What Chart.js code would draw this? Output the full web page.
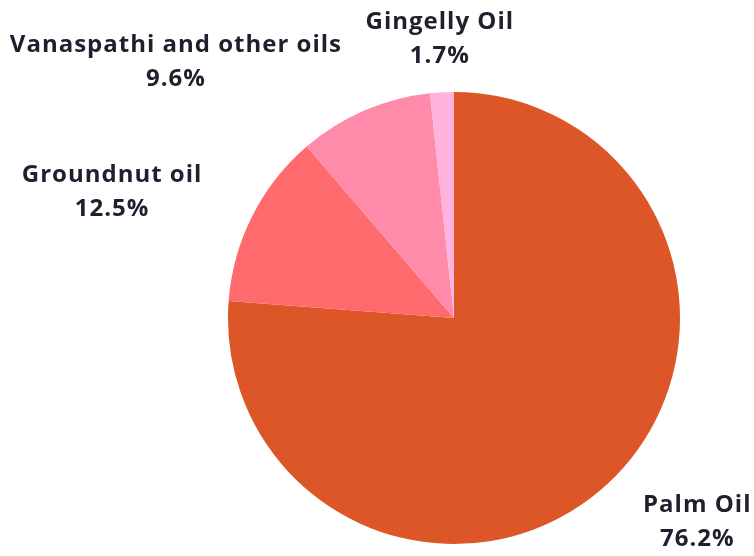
<!DOCTYPE html>
<html>
<head>
<meta charset="utf-8">
<script src="https://cdn.jsdelivr.net/npm/chart.js@4"></script>
<style>
  html, body { margin: 0; padding: 0; background: #fff; }
  #wrap { width: 754px; height: 556px; }
</style>
</head>
<body>
<div id="wrap"><canvas id="oilChart" width="754" height="556"></canvas></div>
<script>
const oilNames = ['Palm Oil', 'Groundnut oil', 'Vanaspathi and other oils', 'Gingelly Oil'];
const oilShares = [76.2, 12.5, 9.6, 1.7];
const oilColors = ['#dc5627', '#ff6b6d', '#ff8aaa', '#ffb3dd'];

// two-line labels (name + percent) outside each slice
const outsideLabels = {
  id: 'outsideLabels',
  afterDraw(chart) {
    const ctx = chart.ctx;
    const meta = chart.getDatasetMeta(0);
    ctx.save();
    ctx.font = 'bold 24px "Open Sans"';
    ctx.letterSpacing = '1px';
    ctx.fillStyle = '#1f1f2e';
    ctx.textAlign = 'center';
    ctx.textBaseline = 'middle';
    const lineH = 34;
    meta.data.forEach((arc, i) => {
      const mid = (arc.startAngle + arc.endAngle) / 2;
      const dx = Math.cos(mid), dy = Math.sin(mid);
      const ax = arc.x + (arc.outerRadius + 40) * dx;
      const ay = arc.y + (arc.outerRadius + 40) * dy;
      const lines = [oilNames[i], oilShares[i].toFixed(1) + '%'];
      const w = Math.max(...lines.map(t => ctx.measureText(t).width));
      let cx;
      if (Math.abs(dx) < 0.2) cx = ax;
      else if (dx < 0) cx = ax + dx * 16 - w / 2;
      else cx = ax + dx * 12 + w / 2;
      const cy = ay + dy * 13;
      ctx.fillText(lines[0], cx, cy - lineH / 2);
      ctx.fillText(lines[1], cx, cy + lineH / 2);
    });
    ctx.restore();
  }
};

new Chart(document.getElementById('oilChart'), {
  type: 'pie',
  data: {
    labels: oilNames,
    datasets: [{
      data: oilShares,
      backgroundColor: oilColors,
      borderWidth: 0
    }]
  },
  options: {
    responsive: false,
    animation: false,
    layout: { padding: { top: 92, bottom: 12, left: 228, right: 74 } },
    plugins: {
      legend: { display: false },
      tooltip: { enabled: false }
    }
  },
  plugins: [outsideLabels]
});
</script>
</body>
</html>
